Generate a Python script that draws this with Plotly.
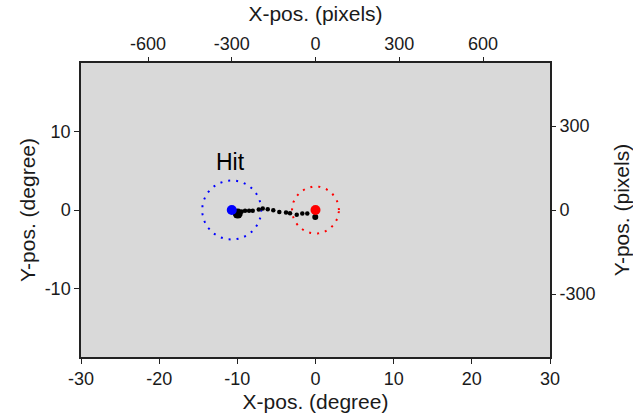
import numpy as np
import plotly.graph_objects as go

# --- data ---
PX_PER_DEG = 28.0
x_range_deg = [-30, 30]
y_range_deg = [-18.75, 18.75]
x_ticks_deg = [-30, -20, -10, 0, 10, 20, 30]
y_ticks_deg = [-10, 0, 10]
x_ticks_px = [-600, -300, 0, 300, 600]
y_ticks_px = [-300, 0, 300]

target_x = [-10.71]
target_y = [0.0]
target_radius = 3.78
fix_x = [0.0]
fix_y = [0.0]
fix_radius = 3.0

gaze_x = [-0.03, -1.05, -1.69, -2.40, -3.26, -3.77, -4.63, -5.40, -6.11, -6.75,
          -7.26, -8.03, -8.50, -9.01, -9.44, -9.95]
gaze_y = [-0.90, -0.46, -0.46, -0.59, -0.42, -0.33, -0.26, -0.04, 0.09, 0.18,
          0.05, -0.08, -0.08, -0.08, -0.20, -0.46]

label_text = "Hit"
label_x = -10.9
label_y = 6.1

FONT = "Liberation Sans, Arial, sans-serif"
TXT = "#1a1a1a"

def circle(cx, cy, r, n=200):
    t = np.linspace(0, 2 * np.pi, n)
    return cx + r * np.cos(t), cy + r * np.sin(t)

def labels(vals):
    return [str(v) for v in vals]

fig = go.Figure()

bx, by = circle(target_x[0], target_y[0], target_radius)
fig.add_trace(go.Scatter(x=bx, y=by, mode="lines",
                         line=dict(color="#0000ff", width=2, dash="2px,6px"),
                         hoverinfo="skip", showlegend=False))
rx, ry = circle(fix_x[0], fix_y[0], fix_radius)
fig.add_trace(go.Scatter(x=rx, y=ry, mode="lines",
                         line=dict(color="#ff0000", width=2, dash="2px,6px"),
                         hoverinfo="skip", showlegend=False))

fig.add_trace(go.Scatter(x=gaze_x, y=gaze_y, mode="markers",
                         marker=dict(color="black", size=4.5),
                         showlegend=False))
fig.add_trace(go.Scatter(x=[gaze_x[0]], y=[gaze_y[0]], mode="markers",
                         marker=dict(color="black", size=6),
                         showlegend=False))
fig.add_trace(go.Scatter(x=[gaze_x[-1]], y=[gaze_y[-1]], mode="markers",
                         marker=dict(color="black", size=10),
                         showlegend=False))
fig.add_trace(go.Scatter(x=target_x, y=target_y, mode="markers",
                         marker=dict(color="#0000ff", size=10),
                         showlegend=False))
fig.add_trace(go.Scatter(x=fix_x, y=fix_y, mode="markers",
                         marker=dict(color="#ff0000", size=10),
                         showlegend=False))

# invisible trace on pixel axes
fig.add_trace(go.Scatter(x=[0], y=[0], xaxis="x2", yaxis="y2", mode="markers",
                         marker=dict(opacity=0), hoverinfo="skip", showlegend=False))

fig.add_annotation(x=label_x, y=label_y, text=label_text, showarrow=False,
                   font=dict(family=FONT, size=23, color="black"),
                   xanchor="center", yanchor="middle")

axis_common = dict(showgrid=False, zeroline=False, ticks="outside", ticklen=5,
                   tickwidth=1.3, tickcolor="#222", linecolor="#222",
                   automargin=False,
                   tickfont=dict(family=FONT, size=18, color=TXT))

fig.update_layout(
    width=633, height=420,
    margin=dict(l=81, r=83, t=63, b=63),
    paper_bgcolor="white", plot_bgcolor="#d9d9d9",
    xaxis=dict(range=x_range_deg, tickvals=x_ticks_deg, ticktext=labels(x_ticks_deg),
               showline=True, linewidth=1.5, mirror=True,
               title=dict(text="X-pos. (degree)", standoff=6,
                          font=dict(family=FONT, size=21, color=TXT)),
               **axis_common),
    yaxis=dict(range=y_range_deg, tickvals=y_ticks_deg, ticktext=labels(y_ticks_deg),
               showline=True, linewidth=1.5, mirror=True,
               title=dict(text="Y-pos. (degree)", standoff=3,
                          font=dict(family=FONT, size=21, color=TXT)),
               **axis_common),
    xaxis2=dict(range=[x_range_deg[0] * PX_PER_DEG, x_range_deg[1] * PX_PER_DEG],
                tickvals=x_ticks_px, ticktext=labels(x_ticks_px),
                overlaying="x", side="top", showline=False,
                title=dict(text="X-pos. (pixels)", standoff=6,
                           font=dict(family=FONT, size=21, color=TXT)),
                **axis_common),
    yaxis2=dict(range=[y_range_deg[0] * PX_PER_DEG, y_range_deg[1] * PX_PER_DEG],
                tickvals=y_ticks_px, ticktext=labels(y_ticks_px),
                overlaying="y", side="right", showline=False,
                title=dict(text="Y-pos. (pixels)", standoff=20,
                           font=dict(family=FONT, size=21, color=TXT)),
                **axis_common),
)

fig.write_html("out.html")
